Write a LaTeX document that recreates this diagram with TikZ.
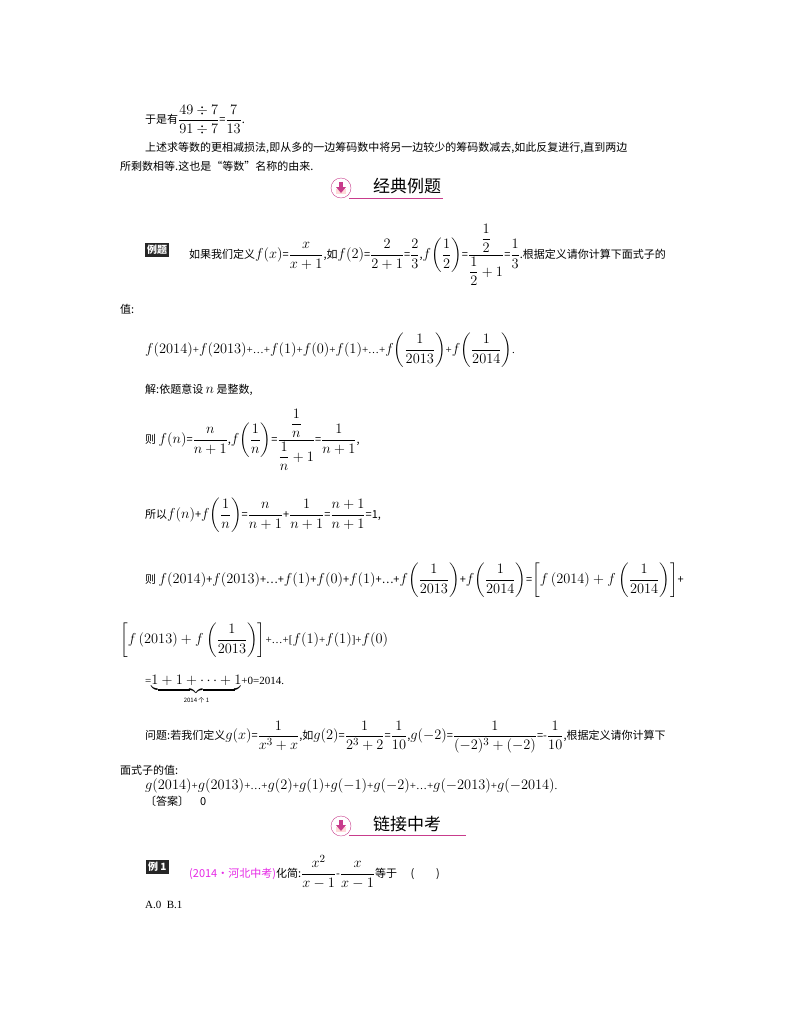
\documentclass[tikz,border=0pt]{standalone}
\usepackage{amsmath}
\usepackage{fontspec}
\newfontfamily\cjk{Noto Sans CJK SC}
\setmainfont{Liberation Serif}
\DeclareMathSizes{11}{14.5}{10.5}{8}
\definecolor{pinkc}{RGB}{200,60,140}
\definecolor{magc}{RGB}{230,40,230}
\tikzset{txt/.style={anchor=west,inner sep=0pt,font=\fontsize{11}{13}\selectfont},
 hdr/.style={anchor=west,inner sep=0pt,font=\cjk\fontsize{17}{19}\selectfont},
 tag/.style={anchor=west,fill=black!85,text=white,inner sep=2pt,font=\cjk\bfseries\fontsize{10}{12}\selectfont}}
\newcommand{\hicon}[2]{%
 \node[circle,draw=pinkc,fill=white,minimum size=20pt,inner sep=0pt] (#1) at #2 {};
 \fill[pink!60] ([xshift=-5pt,yshift=-6pt]#1.center) rectangle ([xshift=5pt,yshift=-1pt]#1.center);
 \fill[pinkc] ([xshift=-2pt,yshift=6pt]#1.center) rectangle ([xshift=2pt,yshift=0pt]#1.center);
 \fill[pinkc] ([xshift=-5pt,yshift=1pt]#1.center) -- ([xshift=5pt,yshift=1pt]#1.center) -- ([yshift=-5pt]#1.center) -- cycle;}
\begin{document}
\begin{tikzpicture}[x=1pt,y=-1pt]
\useasboundingbox[fill=white] (0,0) rectangle (800,1028);
\node[txt] (l1) at (145,120) {\cjk 于是有$\dfrac{49\div7}{91\div7}$=$\dfrac{7}{13}$.};
\node[txt] (l2) at (145,148) {\cjk 上述求等数的更相减损法,即从多的一边筹码数中将另一边较少的筹码数减去,如此反复进行,直到两边};
\node[txt] (l3) at (120,166) {\cjk 所剩数相等.这也是“等数”名称的由来.};
% header 1
\hicon{ic1}{(341,188)}
\node[hdr] (h1) at (373,186) {经典例题};
\coordinate (c1a) at (349,198);
\coordinate (c1b) at (443,198);
\draw[pinkc,thick] (c1a) -- (c1b);
\node[tag] (t1) at (145,250) {例题};
\node[txt] (l4) at (189,255) {\cjk 如果我们定义$f(x)$=$\dfrac{x}{x+1}$,如$f(2)$=$\dfrac{2}{2+1}$=$\dfrac{2}{3}$,$f\!\left(\dfrac12\right)$=$\dfrac{\dfrac12}{\dfrac12+1}$=$\dfrac13$.根据定义请你计算下面式子的};
\node[txt] (l5) at (120,309) {\cjk 值:};
\node[txt] (l6) at (145,350) {$f(2014)$+$f(2013)$+\ldots+$f(1)$+$f(0)$+$f(1)$+\ldots+$f\!\left(\dfrac{1}{2013}\right)$+$f\!\left(\dfrac{1}{2014}\right)$.};
\node[txt] (l7) at (145,390) {\cjk 解:依题意设 $n$ 是整数,};
\node[txt] (l8) at (145,440) {\cjk 则 $f(n)$=$\dfrac{n}{n+1}$,$f\!\left(\dfrac1n\right)$=$\dfrac{\dfrac1n}{\dfrac1n+1}$=$\dfrac{1}{n+1}$,};
\node[txt] (l9) at (145,515) {\cjk 所以$f(n)$+$f\!\left(\dfrac1n\right)$=$\dfrac{n}{n+1}$+$\dfrac{1}{n+1}$=$\dfrac{n+1}{n+1}$=1,};
\node[txt] (l10) at (145,580) {\cjk 则 $f(2014)$+$f(2013)$+\ldots+$f(1)$+$f(0)$+$f(1)$+\ldots+$f\!\left(\dfrac{1}{2013}\right)$+$f\!\left(\dfrac{1}{2014}\right)$=$\left[f\,(2014)+f\left(\dfrac{1}{2014}\right)\right]$+};
\node[txt] (l11) at (120,640) {$\left[f\,(2013)+f\left(\dfrac{1}{2013}\right)\right]$+\ldots+[$f(1)$+$f(1)$]+$f(0)$};
\node[txt] (l12) at (145,690) {=$\underbrace{1+1+\cdots+1}_{\text{\cjk\fontsize{6}{7}\selectfont 2014 个 1}}$+0=2014.};
\node[txt] (l13) at (145,737) {\cjk 问题:若我们定义$g(x)$=$\dfrac{1}{x^3+x}$,如$g(2)$=$\dfrac{1}{2^3+2}$=$\dfrac{1}{10}$,$g(-2)$=$\dfrac{1}{(-2)^3+(-2)}$=-$\dfrac{1}{10}$,根据定义请你计算下};
\node[txt] (l14) at (120,770) {\cjk 面式子的值:};
\node[txt] (l15) at (145,786) {$g(2014)$+$g(2013)$+\ldots+$g(2)$+$g(1)$+$g(-1)$+$g(-2)$+\ldots+$g(-2013)$+$g(-2014)$.};
\node[txt] (l16) at (145,801) {\cjk 〔答案〕\quad 0};
% header 2
\hicon{ic2}{(341,826)}
\node[hdr] (h2) at (373,824) {链接中考};
\coordinate (c2a) at (349,835);
\coordinate (c2b) at (466,835);
\draw[pinkc,thick] (c2a) -- (c2b);
\node[tag] (t2) at (146,867) {例 1};
\node[txt] (l17) at (189,872) {\cjk\textcolor{magc}{(2014·河北中考)}化简:$\dfrac{x^2}{x-1}$-$\dfrac{x}{x-1}$等于\quad\ (\qquad)};
\node[txt] (l18) at (145,905) {A.0\ \ B.1};
\end{tikzpicture}
\end{document}
